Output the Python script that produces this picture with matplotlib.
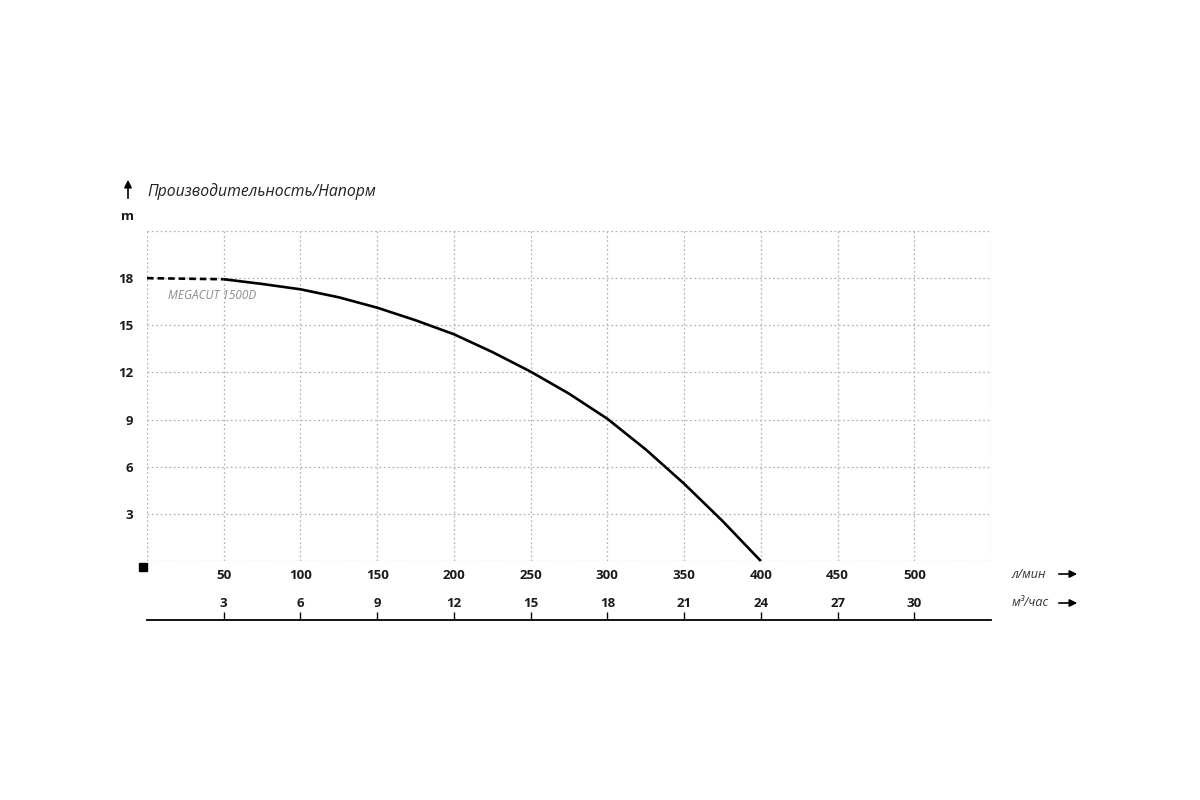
import matplotlib
matplotlib.use("Agg")
import matplotlib.pyplot as plt
from matplotlib.patches import Rectangle

plt.rcParams['font.family'] = ['Open Sans', 'DejaVu Sans']

# Data
flow_lpm = [0, 50, 75, 100, 125, 150, 175, 200, 225, 250, 275, 300, 325, 350, 375, 400]
head_m = [18.0, 17.93, 17.63, 17.29, 16.78, 16.12, 15.32, 14.43, 13.3, 12.05, 10.65, 9.05, 7.1, 4.92, 2.55, 0.0]
x_ticks = list(range(0, 551, 50))
x_labels = ['' if v in (0, 550) else str(v) for v in x_ticks]
y_ticks = list(range(0, 22, 3))
y_labels = ['' if v in (0, 21) else str(v) for v in y_ticks]
m3h_ticks = [3, 6, 9, 12, 15, 18, 21, 24, 27, 30]
title = 'Производительность/Напорм'
model = 'MEGACUT 1500D'

W, H = 1200, 800
fig = plt.figure(figsize=(12, 8), dpi=100)

def fx(px):
    return px / W

def fy(py):
    return 1 - py / H

left, right, top, bottom = 147, 991, 231, 561
ax = fig.add_axes([fx(left), fy(bottom), fx(right) - fx(left), fy(top) - fy(bottom)])
ax.set_xlim(0, 550)
ax.set_ylim(0, 21)
for s in ax.spines.values():
    s.set_visible(False)
ax.set_xticks(x_ticks)
ax.set_xticklabels(x_labels, fontsize=9.5, fontweight='bold', color='#1a1a1a')
ax.set_yticks(y_ticks)
ax.set_yticklabels(y_labels, fontsize=9.5, fontweight='bold', color='#1a1a1a')
ax.tick_params(axis='x', length=0, pad=6)
ax.tick_params(axis='y', length=0, pad=10)
ax.grid(True, color='#b5b5b5', linestyle=(0, (1.5, 2)), linewidth=0.9)
ax.set_axisbelow(True)

# Curve: dashed up to first measured point, solid after
ax.plot(flow_lpm[:2], head_m[:2], color='black', lw=1.9, linestyle=(0, (2.5, 1.5)), clip_on=False)
ax.plot(flow_lpm[1:], head_m[1:], color='black', lw=1.9, solid_capstyle='butt',
        solid_joinstyle='round', clip_on=False)
ax.text(14, 16.9, model, fontsize=8.5, style='italic', color='#8a8a8a', va='center', ha='left')

# Second axis (m3/h)
ax2 = fig.add_axes([fx(left), fy(620), fx(right) - fx(left), 0.0001])
ax2.set_xlim(0, 550 * 0.06)
ax2.set_ylim(0, 1)
for k in ('top', 'left', 'right'):
    ax2.spines[k].set_visible(False)
ax2.spines['bottom'].set_linewidth(1.3)
ax2.set_yticks([])
ax2.set_xticks(m3h_ticks)
ax2.set_xticklabels([str(v) for v in m3h_ticks], fontsize=9.5, fontweight='bold', color='#1a1a1a')
ax2.tick_params(axis='x', direction='in', length=6, width=1, labelbottom=False, labeltop=True, pad=7)

# Title, unit labels, arrows
fig.text(fx(147), fy(192), title, fontsize=11.3, style='italic', color='#222222', va='center', ha='left')
fig.text(fx(128), fy(217), 'm', fontsize=9.5, fontweight='bold', color='#1a1a1a', va='center', ha='center')
fig.add_artist(Rectangle((fx(139), fy(571)), 8 / W, 8 / H, transform=fig.transFigure, color='black'))

arrow = dict(arrowstyle='-|>', color='black', lw=1.2, mutation_scale=11)
ax.annotate('', xy=(fx(128), fy(177)), xytext=(fx(128), fy(201)), xycoords='figure fraction', textcoords='figure fraction', arrowprops=arrow)
fig.text(fx(1012), fy(574), 'л/мин', fontsize=9, style='italic', color='#333333', va='center', ha='left')
fig.text(fx(1012), fy(603), 'м³/час', fontsize=9, style='italic', color='#333333', va='center', ha='left')
ax.annotate('', xy=(fx(1080), fy(574)), xytext=(fx(1056), fy(574)), xycoords='figure fraction', textcoords='figure fraction', arrowprops=arrow)
ax.annotate('', xy=(fx(1080), fy(603)), xytext=(fx(1056), fy(603)), xycoords='figure fraction', textcoords='figure fraction', arrowprops=arrow)

fig.savefig('out.png', dpi=100, facecolor='white')
